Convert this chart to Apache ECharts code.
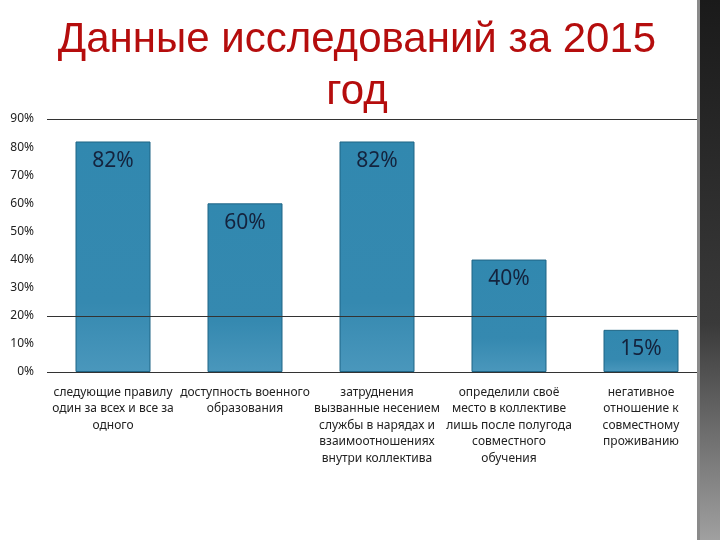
<!DOCTYPE html>
<html><head><meta charset="utf-8">
<script src="https://cdn.jsdelivr.net/npm/echarts@6/dist/echarts.min.js"></script>
<style>html,body{margin:0;padding:0;background:#fff}#c{width:720px;height:540px}</style>
</head><body><div id="c"></div>
<script>
const categories = [
  "следующие правилу\nодин за всех и все за\nодного",
  "доступность военного\nобразования",
  "затруднения\nвызванные несением\nслужбы в нарядах и\nвзаимоотношениях\nвнутри коллектива",
  "определили своё\nместо в коллективе\nлишь после полугода\nсовместного\nобучения",
  "негативное\nотношение к\nсовместному\nпроживанию"
];
const values = [82, 60, 82, 40, 15];
const gridLineValues = [0, 20, 90];
const titleText = "Данные исследований за 2015\nгод";

const chart = echarts.init(document.getElementById('c'), null, {renderer: 'canvas'});
chart.setOption({
  animation: false,
  backgroundColor: '#ffffff',
  title: {
    text: titleText,
    left: 352, top: 9, textAlign: 'center',
    textStyle: {color: '#b50d0d', fontSize: 42, fontWeight: 'normal', fontFamily: '"Liberation Sans"', lineHeight: 52}
  },
  grid: {left: 47, right: 13, top: 119, bottom: 168},
  xAxis: {
    type: 'category', data: categories,
    axisLine: {show: false}, axisTick: {show: false},
    axisLabel: {interval: 0, color: '#222', fontSize: 12, fontFamily: 'Noto Sans', lineHeight: 16.5, margin: 12}
  },
  yAxis: {
    type: 'value', min: 0, max: 90, interval: 10,
    axisLine: {show: false}, axisTick: {show: false}, splitLine: {show: false},
    axisLabel: {formatter: '{value}%', color: '#222', fontSize: 12, fontFamily: 'Noto Sans', margin: 13}
  },
  graphic: [
    {type: 'rect', shape: {x: 700, y: 0, width: 20, height: 540}, z: 10,
     style: {fill: new echarts.graphic.LinearGradient(0, 0, 0, 1, [
       {offset: 0, color: '#1a1a1a'}, {offset: 0.6, color: '#3a3a3a'}, {offset: 1, color: '#a0a0a0'}])}},
    {type: 'rect', shape: {x: 697, y: 0, width: 3, height: 540}, z: 10, style: {fill: '#8a8a8a'}}
  ],
  series: [{
    type: 'bar', data: values, barWidth: 75,
    itemStyle: {
      color: new echarts.graphic.LinearGradient(0, 0, 0, 1, [
        {offset: 0, color: '#3188af'}, {offset: 0.7, color: '#3589b0'}, {offset: 1, color: '#4a97bc'}]),
      borderColor: '#1f6585', borderWidth: 1
    },
    label: {show: true, position: 'insideTop', distance: 9, formatter: '{c}%', color: '#14233d', fontSize: 21, fontFamily: 'Noto Sans'},
    markLine: {
      silent: true, symbol: 'none', label: {show: false},
      lineStyle: {color: '#333', width: 1, type: 'solid'},
      data: gridLineValues.map(v => ({yAxis: v}))
    },
    z: 3
  }]
});
</script></body></html>
